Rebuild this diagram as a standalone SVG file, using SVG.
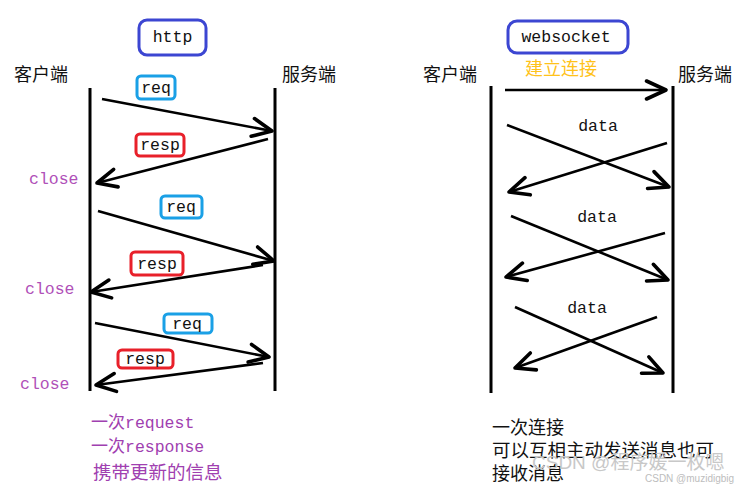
<svg xmlns="http://www.w3.org/2000/svg" width="739" height="484" viewBox="0 0 739 484">
<defs>
<style>
.cjk{font-family:"Noto Sans CJK SC",sans-serif;font-size:18px;fill:#111}
.mono{font-family:"Liberation Mono",monospace;font-size:16.5px;fill:#111}
.close{font-family:"Liberation Mono",monospace;font-size:16.5px;fill:#b050b8}
.purple{fill:#a040b0}
.life{stroke:#000;stroke-width:3;fill:none}
.msg{stroke:#000;stroke-width:2.6;fill:none;marker-end:url(#ah)}
.title{fill:none;stroke:#3c46d2;stroke-width:3}
.req{fill:none;stroke:#1aa0e6;stroke-width:3}
.resp{fill:none;stroke:#e8202a;stroke-width:3}
.wm{font-family:"Liberation Sans","Noto Sans CJK SC",sans-serif;fill:#c8c8c8}
</style>
<marker id="ah" markerUnits="userSpaceOnUse" markerWidth="30" markerHeight="30" refX="0" refY="0" viewBox="-16 -10 20 20" orient="auto" overflow="visible">
<path d="M -13 -6 L 0 0 L -13 6" fill="none" stroke="#000" stroke-width="2.4" stroke-linecap="round" stroke-linejoin="round"/>
</marker>
</defs>
<rect width="739" height="484" fill="#fff"/>

<g id="http-title">
<rect class="title" x="139" y="20" width="67" height="35" rx="8"/>
<text class="mono" x="172.5" y="42" text-anchor="middle">http</text>
</g>
<g id="http-client">
<text class="cjk" x="14" y="81">客户端</text>
<line class="life" x1="90" y1="88" x2="90" y2="391"/>
</g>
<g id="http-server">
<text class="cjk" x="282" y="81">服务端</text>
<line class="life" x1="275" y1="88" x2="275" y2="391"/>
</g>

<g id="labels-http">
<rect class="req" x="137" y="76" width="38" height="23" rx="4"/>
<text class="mono" x="156" y="93" text-anchor="middle">req</text>
<rect class="resp" x="136" y="134" width="48" height="22" rx="4"/>
<text class="mono" x="160" y="150" text-anchor="middle">resp</text>
<rect class="req" x="161" y="196" width="41" height="22" rx="4"/>
<text class="mono" x="181" y="212" text-anchor="middle">req</text>
<rect class="resp" x="131" y="252" width="52" height="23" rx="4"/>
<text class="mono" x="157" y="269" text-anchor="middle">resp</text>
<rect class="req" x="164" y="314" width="48" height="19" rx="4"/>
<text class="mono" x="187" y="329" text-anchor="middle">req</text>
<rect class="resp" x="118" y="350" width="55" height="18" rx="4"/>
<text class="mono" x="145" y="364" text-anchor="middle">resp</text>
<text class="close" x="29" y="184">close</text>
<text class="close" x="25" y="294">close</text>
<text class="close" x="20" y="389">close</text>
</g>

<g id="ws-title">
<rect class="title" x="508" y="21" width="120" height="32" rx="9"/>
<text class="mono" x="566" y="42" text-anchor="middle">websocket</text>
<text class="cjk" x="525" y="75" style="fill:#ffc21a">建立连接</text>
</g>
<g id="ws-client">
<text class="cjk" x="423" y="81">客户端</text>
<line class="life" x1="491" y1="86" x2="491" y2="393"/>
</g>
<g id="ws-server">
<text class="cjk" x="678" y="81">服务端</text>
<line class="life" x1="673" y1="86" x2="673" y2="393"/>
</g>
<g id="ws-labels">
<text class="mono" x="598" y="131" text-anchor="middle">data</text>
<text class="mono" x="597" y="222" text-anchor="middle">data</text>
<text class="mono" x="587" y="313" text-anchor="middle">data</text>
</g>

<g id="connectors">
<line class="msg" x1="102" y1="99" x2="272" y2="131"/>
<line class="msg" x1="268" y1="139" x2="97" y2="183"/>
<line class="msg" x1="98" y1="211" x2="274" y2="261"/>
<line class="msg" x1="263" y1="265" x2="91" y2="292"/>
<line class="msg" x1="95" y1="323" x2="269" y2="357"/>
<line class="msg" x1="263" y1="363" x2="96" y2="385"/>
<line class="msg" x1="505" y1="90" x2="666" y2="90"/>
<line class="msg" x1="507" y1="125" x2="669" y2="187"/>
<line class="msg" x1="667" y1="143" x2="509" y2="192"/>
<line class="msg" x1="511" y1="216" x2="668" y2="280"/>
<line class="msg" x1="665" y1="233" x2="506" y2="277"/>
<line class="msg" x1="515" y1="307" x2="663" y2="373"/>
<line class="msg" x1="657" y1="317" x2="515" y2="368"/>
</g>

<g id="notes">
<text class="cjk purple" x="91" y="428" style="font-size:17px">一次<tspan style="font-family:'Liberation Mono',monospace;font-size:16.5px">request</tspan></text>
<text class="cjk purple" x="91" y="452" style="font-size:17px">一次<tspan style="font-family:'Liberation Mono',monospace;font-size:16.5px">response</tspan></text>
<text class="cjk purple" x="93" y="479" style="font-size:18.5px">携带更新的信息</text>
<text class="cjk" x="492" y="434" style="font-size:18px">一次连接</text>
<text class="cjk" x="492" y="457" style="font-size:18.5px">可以互相主动发送消息也可</text>
<text class="cjk" x="492" y="480" style="font-size:18px">接收消息</text>
<text class="wm" x="532" y="469" style="font-size:19px">CSDN @程序媛一枚嗯</text>
<text class="wm" x="645" y="482" style="font-size:10px;fill:#bdbdbd">CSDN @muzidigbig</text>
</g>
</svg>
